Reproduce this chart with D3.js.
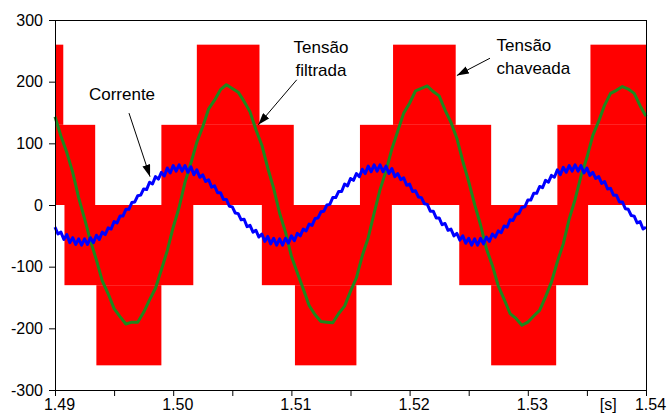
<!DOCTYPE html>
<meta charset="utf-8">
<style>

  body { margin: 0; background: #fff; }

  text {
    font-family: "Liberation Sans", Arial, sans-serif;
    fill: #000;
  }

  .axis text { font-size: 16px; }

  .note { font-size: 17px; }

</style>
<svg width="667" height="415"></svg>
<script src="https://d3js.org/d3.v7.min.js"></script>
<script>

// time axis [s] and tick labels
var tStart = 1.49, tEnd = 1.54;
var xTicks = [1.49, 1.495, 1.50, 1.505, 1.51, 1.515, 1.52, 1.525, 1.53, 1.535, 1.54];
var xTickLabels = ["1.49", "", "1.50", "", "1.51", "", "1.52", "", "1.53", "", "1.54"];
var yTicks = [-300, -200, -100, 0, 100, 200, 300];

// switched voltage (red): blocks where the PWM toggles between two levels
var swStart = [1.4900, 1.4900, 1.4908, 1.4935, 1.4990, 1.5020, 1.5075, 1.5103, 1.5158, 1.5186, 1.5242, 1.5269, 1.5325, 1.5353];
var swEnd   = [1.4907, 1.4934, 1.5017, 1.4990, 1.5102, 1.5073, 1.5185, 1.5155, 1.5269, 1.5239, 1.5351, 1.5324, 1.5400, 1.5400];
var swLow   = [130, 0, -130, -260, 0, 130, -130, -260, 0, 130, -130, -260, 0, 130];
var swHigh  = [260, 130, 0, -130, 130, 260, 0, -130, 130, 260, 0, -130, 130, 260];

// filtered voltage (green), one sample every 0.5 ms from 1.49 s
var filtStep = 0.0005;
var filtered = [143, 112, 85, 53, 12, -22, -58, -89, -123, -144,
  -168, -181, -193, -190, -190, -174, -154, -135, -105, -74,
  -36, -4, 37, 68, 102, 127, 156, 170, 187, 195,
  189, 183, 168, 151, 122, 97, 60, 27, -13, -44,
  -83, -110, -136, -163, -178, -189, -190, -191, -176, -164,
  -140, -118, -82, -53, -13, 25, 55, 91, 120, 149,
  165, 185, 189, 193, 184, 177, 154, 134, 108, 71,
  38, 1, -32, -71, -98, -131, -153, -176, -184, -195,
  -190, -180, -171, -149, -125, -92, -63, -23, 9, 47,
  77, 113, 136, 162, 181, 186, 192, 188, 181, 161, 144];

// current (blue), one sample every 0.25 ms from 1.49 s
var curStep = 0.00025;
var current = [-36, -47, -44, -56, -48, -61, -53, -64, -55, -65,
  -55, -64, -53, -61, -49, -56, -44, -48, -37, -39,
  -27, -29, -18, -18, -7, -7, 4, 5, 15, 16,
  26, 25, 37, 34, 46, 42, 53, 47, 60, 52,
  64, 55, 65, 55, 64, 53, 62, 49, 57, 45,
  49, 38, 41, 29, 31, 20, 20, 9, 9, -2,
  -3, -13, -14, -24, -23, -35, -33, -44, -41, -52,
  -47, -59, -51, -63, -54, -65, -55, -65, -54, -62,
  -50, -58, -46, -50, -39, -42, -31, -33, -22, -21,
  -11, -10, 0, 1, 12, 12, 22, 22, 34, 31,
  43, 40, 51, 46, 58, 51, 63, 54, 65, 55,
  65, 54, 63, 51, 59, 46, 51, 41, 44, 32,
  34, 22, 23, 13, 12, 2, 1, -10, -10, -21,
  -21, -32, -30, -41, -39, -50, -46, -57, -50, -62,
  -54, -65, -55, -65, -54, -63, -52, -59, -47, -52,
  -42, -45, -34, -36, -24, -25, -15, -14, -4, -3,
  8, 8, 19, 19, 30, 28, 40, 37, 48, 45,
  57, 49, 61, 53, 64, 55, 65, 55, 64, 52,
  60, 48, 53, 43, 46, 35, 38, 26, 27, 16,
  16, 5, 5, -6, -7, -17, -18, -29, -27, -39, -36];

// labels with arrows, in data units
var notes = [
  { lines: ["Corrente"], tx: 1.49567, ty: 170, anchor: "middle", from: [1.49626, 149], to: [1.49804, 46] },
  { lines: ["Tensão", "filtrada"], tx: 1.51250, ty: 246, anchor: "middle", from: [1.51045, 203], to: [1.50720, 130] },
  { lines: ["Tensão", "chaveada"], tx: 1.52735, ty: 249, anchor: "start", from: [1.52680, 238], to: [1.52400, 210] }
];

var svg = d3.select("svg");

var x = d3.scaleLinear().domain([tStart, tEnd]).range([55, 646]);
var y = d3.scaleLinear().domain([-300, 300]).range([390, 20]);

svg.append("defs").append("marker")
  .attr("id", "head")
  .attr("markerUnits", "userSpaceOnUse")
  .attr("markerWidth", 12)
  .attr("markerHeight", 8)
  .attr("refX", 12)
  .attr("refY", 4)
  .attr("orient", "auto")
  .append("path")
  .attr("d", "M0,0L12,4L0,8Z")
  .attr("fill", "#000");

// red blocks
svg.append("g").selectAll("rect")
  .data(swStart)
  .enter().append("rect")
  .attr("x", function(d, i) { return x(swStart[i]); })
  .attr("width", function(d, i) { return x(swEnd[i]) - x(swStart[i]); })
  .attr("y", function(d, i) { return y(swHigh[i]); })
  .attr("height", function(d, i) { return y(swLow[i]) - y(swHigh[i]); })
  .attr("fill", "#ff0000");

var greenLine = d3.line()
  .x(function(d, i) { return x(tStart + i * filtStep); })
  .y(function(d) { return y(d); });

svg.append("path")
  .datum(filtered)
  .attr("d", greenLine)
  .attr("fill", "none")
  .attr("stroke", "#1e881e")
  .attr("stroke-width", 3)
  .attr("stroke-linejoin", "round");

var blueLine = d3.line()
  .x(function(d, i) { return x(tStart + i * curStep); })
  .y(function(d) { return y(d); });

svg.append("path")
  .datum(current)
  .attr("d", blueLine)
  .attr("fill", "none")
  .attr("stroke", "#0000ff")
  .attr("stroke-width", 3)
  .attr("stroke-linejoin", "round");

// axes
svg.append("g")
  .attr("class", "axis")
  .attr("transform", "translate(55,0)")
  .call(d3.axisLeft(y).tickValues(yTicks).tickSize(6).tickPadding(6)
    .tickFormat(function(d) { return String(d); }))
  .call(function(g) { g.select(".domain").remove(); });

svg.append("g")
  .attr("class", "axis")
  .attr("transform", "translate(0,390)")
  .call(d3.axisBottom(x).tickValues(xTicks).tickSize(6).tickPadding(3)
    .tickFormat(function(d, i) { return xTickLabels[i]; }))
  .call(function(g) { g.select(".domain").remove(); })
  .selectAll("text").attr("dx", 4);

svg.append("rect")
  .attr("x", x(tStart) + 0.5)
  .attr("y", y(300) + 0.5)
  .attr("width", x(tEnd) - x(tStart))
  .attr("height", y(-300) - y(300))
  .attr("fill", "none")
  .attr("stroke", "#000")
  .attr("stroke-width", 1);

svg.append("text")
  .attr("x", x(1.5368))
  .attr("y", 410)
  .attr("text-anchor", "middle")
  .style("font-size", "16px")
  .text("[s]");

// annotations
notes.forEach(function(n) {
  var t = svg.append("text")
    .attr("class", "note")
    .attr("text-anchor", n.anchor);
  n.lines.forEach(function(s, k) {
    t.append("tspan")
      .attr("x", x(n.tx))
      .attr("y", y(n.ty) + k * 22.5)
      .text(s);
  });
  svg.append("line")
    .attr("x1", x(n.from[0])).attr("y1", y(n.from[1]))
    .attr("x2", x(n.to[0])).attr("y2", y(n.to[1]))
    .attr("stroke", "#000")
    .attr("stroke-width", 1)
    .attr("marker-end", "url(#head)");
});

</script>
